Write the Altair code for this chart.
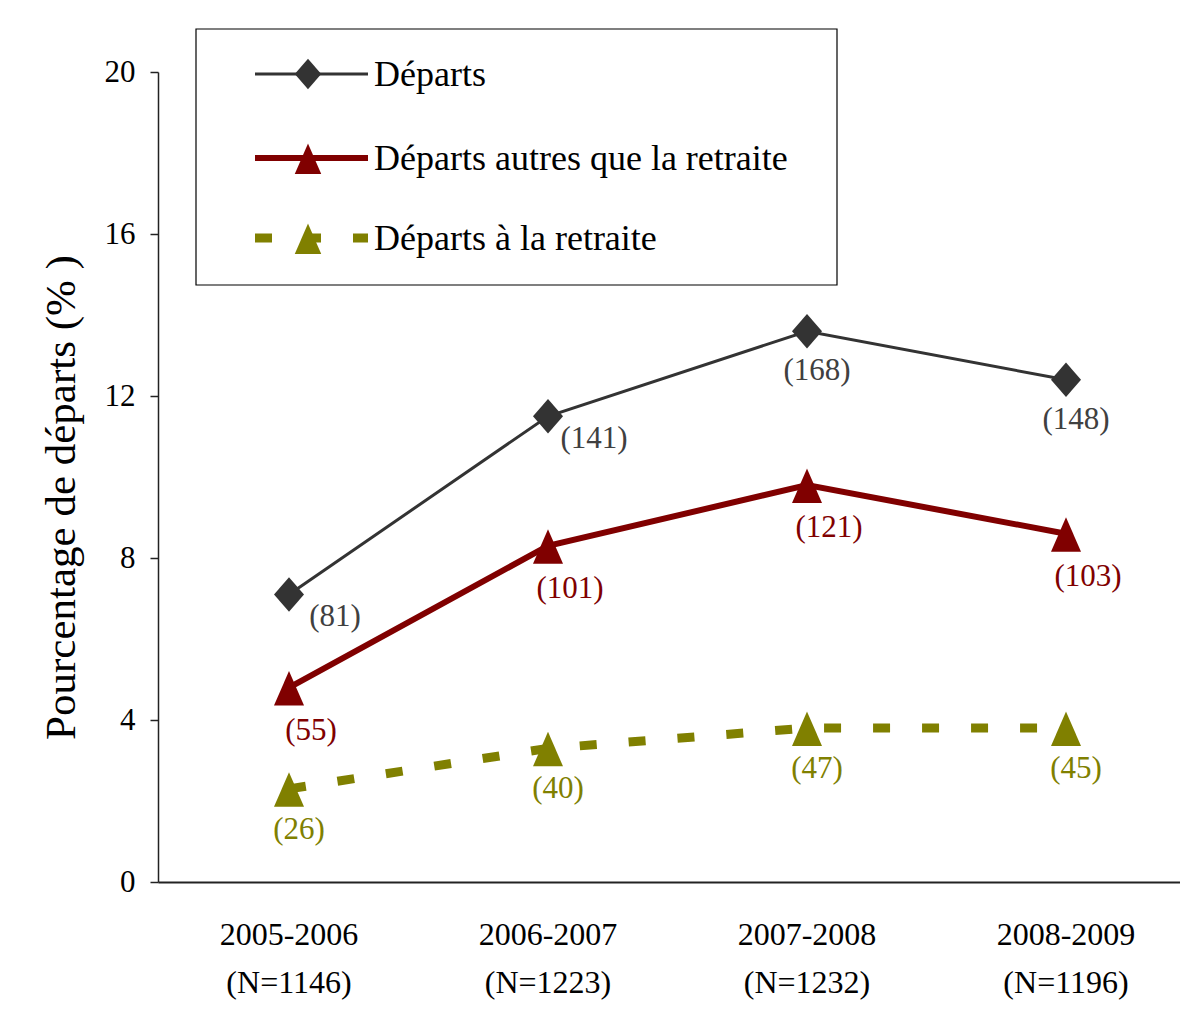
import altair as alt
import pandas as pd

# ---------------- data ----------------
periods = ["2005-2006", "2006-2007", "2007-2008", "2008-2009"]
n_labels = ["(N=1146)", "(N=1223)", "(N=1232)", "(N=1196)"]
series_names = ["Départs", "Départs autres que la retraite", "Départs à la retraite"]
departs = [7.1, 11.5, 13.6, 12.4]
autres = [4.8, 8.3, 9.8, 8.6]
retraite = [2.3, 3.3, 3.8, 3.8]
departs_n = [81, 141, 168, 148]
autres_n = [55, 101, 121, 103]
retraite_n = [26, 40, 47, 45]
y_ticks = [0, 4, 8, 12, 16, 20]

FONT = "Liberation Serif"
C_DEP = "#333333"
C_AUT = "#800000"
C_RET = "#808000"
DIAMOND = "M0,-1.15L1,0L0,1.15L-1,0Z"
TRI = "M0,-1.1L1,1.2L-1,1.2Z"

def frame(vals, counts, name):
    return pd.DataFrame({
        "i": list(range(len(periods))),
        "period": periods,
        "value": vals,
        "label": [f"({c})" for c in counts],
        "series": name,
    })

df_dep = frame(departs, departs_n, series_names[0])
df_aut = frame(autres, autres_n, series_names[1])
df_ret = frame(retraite, retraite_n, series_names[2])
df_x = pd.DataFrame({"i": list(range(len(periods))), "period": periods, "n": n_labels})

W, H = 1022, 810
STEP, FIRST = 259, 131
xs = alt.Scale(domain=[-FIRST / STEP, (W - FIRST) / STEP], nice=False, zero=False)
ys = alt.Scale(domain=[0, 20], nice=False)

X = alt.X("i:Q", scale=xs,
          axis=alt.Axis(labels=False, ticks=False, grid=False, title=None,
                        domainColor="#222222", domainWidth=2))
Y = alt.Y("value:Q", scale=ys,
          axis=alt.Axis(values=y_ticks, grid=False, tickSize=8, tickColor="#222222",
                        tickWidth=1.5, domainColor="#222222", domainWidth=1.5,
                        labelFont=FONT, labelFontSize=31, labelColor="black",
                        labelPadding=15,
                        title="Pourcentage de départs (% )", titleFont=FONT,
                        titleFontSize=43, titleFontWeight="normal", titleColor="black",
                        titleAngle=270, titleX=-84, titleY=425, titleAlign="center",
                        titleBaseline="alphabetic"))

layers = []
# lines
layers.append(alt.Chart(df_dep).mark_line(color=C_DEP, strokeWidth=3).encode(x=X, y=Y))
layers.append(alt.Chart(df_aut).mark_line(color=C_AUT, strokeWidth=6).encode(x=X, y=Y))
layers.append(alt.Chart(df_ret).mark_line(color=C_RET, strokeWidth=9, strokeDash=[17, 32],
                                          strokeCap="butt").encode(x=X, y=Y))
# points
layers.append(alt.Chart(df_dep).mark_point(shape=DIAMOND, size=900, filled=True,
                                           color=C_DEP, opacity=1).encode(x=X, y=Y))
layers.append(alt.Chart(df_aut).mark_point(shape=TRI, size=900, filled=True,
                                           color=C_AUT, opacity=1).encode(x=X, y=Y))
layers.append(alt.Chart(df_ret).mark_point(shape=TRI, size=900, filled=True,
                                           color=C_RET, opacity=1).encode(x=X, y=Y))
# value labels
def lab(df, color, dx, dy, flt=None):
    c = alt.Chart(df)
    if flt is not None:
        c = c.transform_filter(flt)
    return c.mark_text(font=FONT, fontSize=31, color=color, dx=dx, dy=dy,
                       align="center", baseline="middle").encode(x=X, y=Y, text="label:N")

layers.append(lab(df_dep, "#404040", 46, 23, "datum.i < 2"))
layers.append(lab(df_dep, "#404040", 10, 40, "datum.i >= 2"))
layers.append(lab(df_aut, C_AUT, 22, 43))
layers.append(lab(df_ret, C_RET, 10, 41))

# x labels (two lines)
layers.append(alt.Chart(df_x).mark_text(font=FONT, fontSize=32, color="black",
                                        align="center", baseline="alphabetic").encode(
    x=X, y=alt.value(873), text="period:N"))
layers.append(alt.Chart(df_x).mark_text(font=FONT, fontSize=32, color="black",
                                        align="center", baseline="alphabetic").encode(
    x=X, y=alt.value(921), text="n:N"))

# legend (manual)
one = pd.DataFrame({"k": [0]})
layers.append(alt.Chart(one).mark_rect(fill="white", stroke="black", strokeWidth=1.2).encode(
    x=alt.value(38), x2=alt.value(679), y=alt.value(-43), y2=alt.value(213)))

leg_styles = [
    (series_names[0], C_DEP, 3, None, DIAMOND, 2),
    (series_names[1], C_AUT, 6, None, TRI, 86),
    (series_names[2], C_RET, 9, [17, 32], TRI, 166),
]
for name, col, sw, dash, shp, ly in leg_styles:
    dfl = pd.DataFrame({"name": [name]})
    rule_kwargs = dict(color=col, strokeWidth=sw, strokeCap="butt")
    if dash is not None:
        rule_kwargs["strokeDash"] = dash
    layers.append(alt.Chart(dfl).mark_rule(**rule_kwargs).encode(
        x=alt.value(97), x2=alt.value(210), y=alt.value(ly)))
    layers.append(alt.Chart(dfl).mark_point(shape=shp, size=700, filled=True, color=col,
                                            opacity=1).encode(
        x=alt.value(150), y=alt.value(ly)))
    layers.append(alt.Chart(dfl).mark_text(font=FONT, fontSize=36, color="black",
                                           align="left", baseline="alphabetic").encode(
        x=alt.value(216), y=alt.value(ly + 12), text="name:N"))

chart = alt.layer(*layers).properties(
    width=W, height=H,
    autosize=alt.AutoSizeParams(type="none"),
    padding={"left": 150, "top": 64, "right": 0, "bottom": 130},
    background="white",
).configure_view(stroke=None)

chart.save("out.html", embed_options={"renderer": "svg", "actions": False})
